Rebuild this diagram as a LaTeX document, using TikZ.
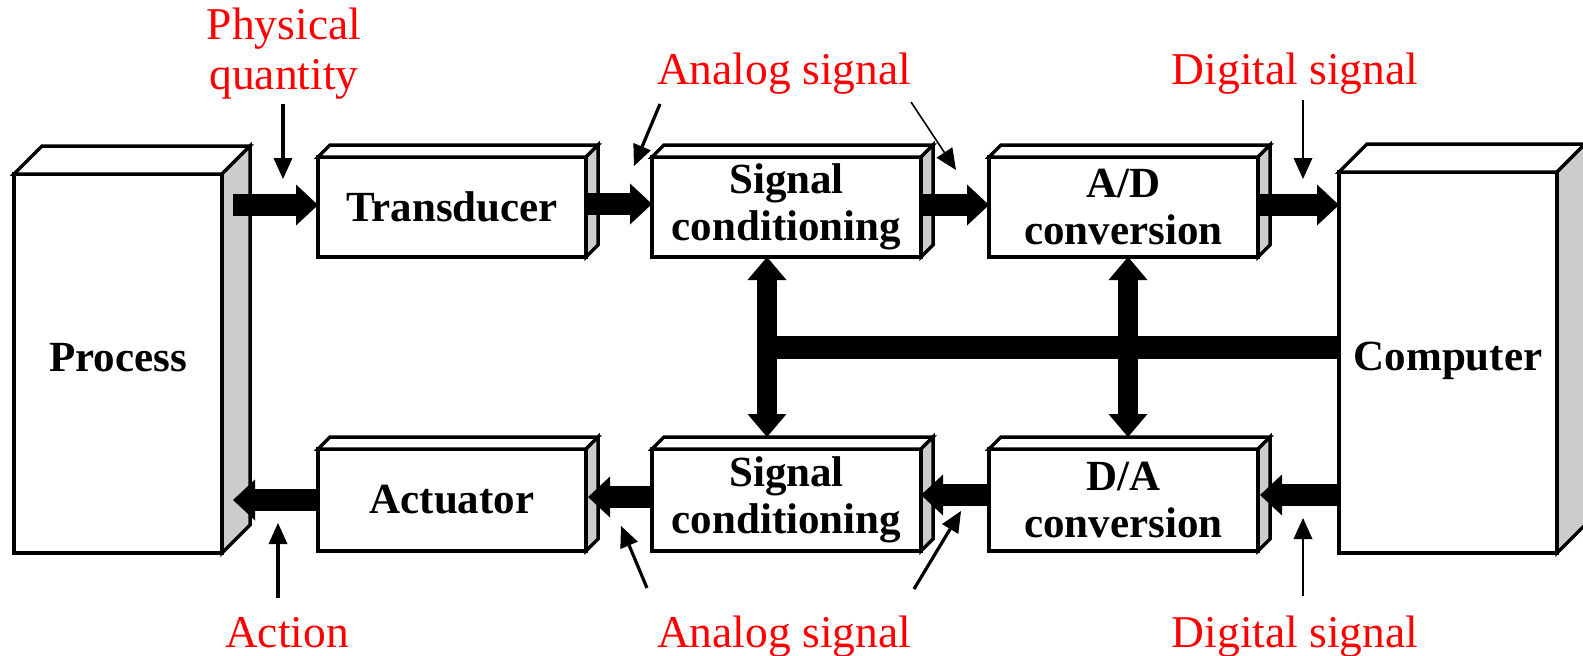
\documentclass[tikz,border=0pt]{standalone}
\usepackage{fontspec}
\setmainfont{Liberation Serif}
\usetikzlibrary{arrows.meta,calc}
\definecolor{sidegray}{HTML}{CCCCCC}
\definecolor{labelred}{HTML}{FF0000}
\newcommand\extrudebox[2]{%
  \draw[boxline,fill=white] (#1.north west) -- ++(#2,-#2) -- ($(#1.north east)+(#2,-#2)$) -- (#1.north east) -- cycle;
  \draw[boxline,fill=sidegray] (#1.north east) -- ++(#2,-#2) -- ($(#1.south east)+(#2,-#2)$) -- (#1.south east) -- cycle;
}
\begin{document}
\begin{tikzpicture}[x=1pt,y=-1pt,
  boxline/.style={line width=3.5pt},
  frontbox/.style={draw,boxline,fill=white,rectangle,inner sep=0pt,outer sep=0pt,align=center,
    font=\bfseries\fontsize{43}{47}\selectfont},
  bigbox/.style={frontbox,text depth=12pt},
  redlabel/.style={text=labelred,inner sep=0pt,outer sep=0pt,align=center,font=\fontsize{45.5}{50}\selectfont},
  bigarrow/.style={line width=22pt,-{Triangle[width=41pt,length=22pt,line width=0pt]}},
  busarrow/.style={line width=20pt,{Triangle[width=39pt,length=23pt,line width=0pt]}-{Triangle[width=39pt,length=23pt,line width=0pt]}},
  busbar/.style={line width=23pt},
  pointer/.style={line width=3.2pt,-{Triangle[width=19pt,length=21pt,line width=0pt]}},
  thinpointer/.style={line width=1.6pt,-{Triangle[width=19pt,length=21pt,line width=0pt]}},
]
\useasboundingbox (0,0) rectangle (1583,656);

% boxes (front faces)
\node[bigbox,minimum width=208pt,minimum height=379pt] (proc) at (118,363.5) {Process};
\node[bigbox,minimum width=218pt,minimum height=381pt] (comp) at (1448,362.5) {Computer};
\node[frontbox,minimum width=268pt,minimum height=100pt] (trans) at (452,207) {Transducer};
\node[frontbox,minimum width=269pt,minimum height=100pt] (sc1) at (786.5,207) {Signal\\conditioning};
\node[frontbox,minimum width=269pt,minimum height=100pt] (ad) at (1123.5,207) {A/D\\conversion};
\node[frontbox,minimum width=268pt,minimum height=102pt] (act) at (452,500) {Actuator};
\node[frontbox,minimum width=269pt,minimum height=102pt] (sc2) at (786.5,500) {Signal\\conditioning};
\node[frontbox,minimum width=269pt,minimum height=102pt] (da) at (1123.5,500) {D/A\\conversion};

% 3D extrusions
\extrudebox{proc}{28}
\extrudebox{comp}{28}
\extrudebox{trans}{12}
\extrudebox{sc1}{12}
\extrudebox{ad}{12}
\extrudebox{act}{12}
\extrudebox{sc2}{12}
\extrudebox{da}{12}

% forward path
\draw[bigarrow] ($(proc.east |- trans.west)+(11,-2)$) -- ($(trans.west)+(0,-2)$);
\draw[bigarrow] ($(trans.east)+(0,-3)$) -- ($(sc1.west)+(0,-3)$);
\draw[bigarrow] ($(sc1.east)+(0,-2)$) -- ($(ad.west)+(0,-2)$);
\draw[bigarrow] ($(ad.east)+(0,-2)$) -- ($(comp.west |- ad.east)+(0,-2)$);

% return path
\draw[bigarrow] ($(comp.west |- da.east)+(0,-5)$) -- ($(da.east)+(2,-5)$);
\draw[bigarrow] ($(da.west)+(0,-5)$) -- ($(sc2.east)+(0,-5)$);
\draw[bigarrow] ($(sc2.west)+(0,-3)$) -- ($(act.east)+(2,-3)$);
\draw[bigarrow] (act.west) -- ($(proc.east |- act.west)+(11,0)$);

% bus
\coordinate (busL) at (767,347);
\coordinate (busR) at (1128,347);
\draw[busbar] ($(busL)+(-10,0)$) -- (busL -| comp.west);
\draw[busarrow] (busL |- sc1.south) -- ($(busL |- sc2.north)+(0,-12)$);
\draw[busarrow] (busR |- ad.south) -- ($(busR |- da.north)+(0,-12)$);

% red labels
\node[redlabel] (pq) at (284,54) {Physical\\quantity};
\node[redlabel,anchor=base] (as1) at (784,84) {Analog signal};
\node[redlabel,anchor=base] (ds1) at (1295,84) {Digital signal};
\node[redlabel,anchor=base] (actl) at (287,647) {Action};
\node[redlabel,anchor=base] (as2) at (784,647) {Analog signal};
\node[redlabel,anchor=base] (ds2) at (1295,647) {Digital signal};

% label pointers
\coordinate (pqA) at (283,104);   \coordinate (pqB) at (283,179);
\coordinate (as1A) at (660,104);  \coordinate (as1B) at (634,166);
\coordinate (as1C) at (911,102);  \coordinate (as1D) at (956,170);
\coordinate (ds1A) at (1303,100); \coordinate (ds1B) at (1303,179);
\coordinate (acA) at (278,598);   \coordinate (acB) at (278,523);
\coordinate (as2A) at (647,588);  \coordinate (as2B) at (621,526);
\coordinate (as2C) at (914,589);  \coordinate (as2D) at (961,511);
\coordinate (ds2A) at (1303,596); \coordinate (ds2B) at (1303,518);
\draw[pointer] (pqA) -- (pqB);
\draw[pointer] (as1A) -- (as1B);
\draw[thinpointer] (as1C) -- (as1D);
\draw[thinpointer] (ds1A) -- (ds1B);
\draw[pointer] (acA) -- (acB);
\draw[pointer] (as2A) -- (as2B);
\draw[pointer] (as2C) -- (as2D);
\draw[thinpointer] (ds2A) -- (ds2B);
\end{tikzpicture}
\end{document}
